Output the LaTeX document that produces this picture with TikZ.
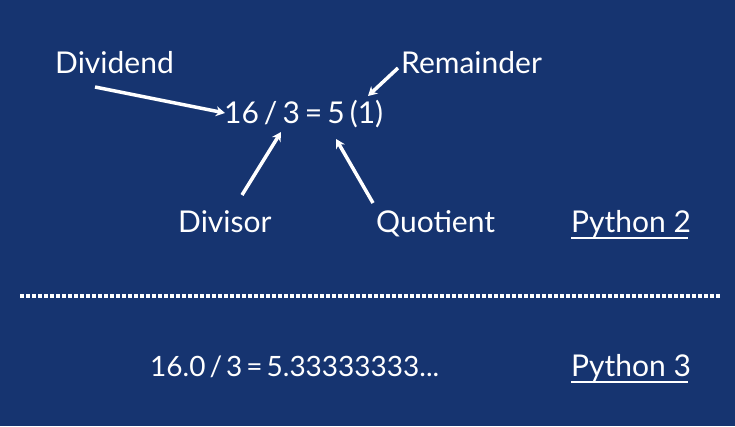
\documentclass[tikz,border=0pt]{standalone}
\usepackage{fontspec}
\setmainfont{Lato}
\usetikzlibrary{arrows.meta}
\definecolor{bg}{RGB}{22,52,112}
\tikzset{
  lbl/.style={text=white, inner sep=0pt, anchor=base west, font=\fontsize{30}{32}\selectfont},
  arr/.style={draw=white, line width=3.5pt, -{Stealth[length=9pt,width=10pt]}},
}
\newcommand{\gapsp}{\hspace{5pt}}
\newcommand{\gapsm}{\hspace{4pt}}
\begin{document}
\begin{tikzpicture}[x=1pt,y=-1pt]
\fill[bg] (0,0) rectangle (735,426);
\useasboundingbox (0,0) rectangle (735,426);
\node[lbl] (dividend) at (55,73) {Dividend};
\node[lbl] (remainder) at (401,73) {Remainder};
\node[lbl] (eq) at (224,123) {16\gapsp/\gapsp3\gapsp=\gapsp5\gapsp(1)};
\node[lbl] (divisor) at (178,232) {Divisor};
\node[lbl] (quotient) at (376,232) {Quotient};
\node[lbl] (py2) at (571,232) {Python 2};
\node[lbl, font=\fontsize{28}{30}\selectfont] (eq3) at (150,376) {16.0\gapsm/\gapsm3\gapsm=\gapsm5.33333333...};
\node[lbl] (py3) at (571,376) {Python 3};
\draw[white, line width=2pt] (py2.base west) ++(0,6) -- ++(117,0);
\draw[white, line width=2pt] (py3.base west) ++(0,6) -- ++(117,0);
\draw[white, line width=3.5pt, dash pattern=on 3.5pt off 2.5pt] (20,296) -- (720,296);
\coordinate (dt) at (95,87);
\coordinate (dh) at (225,113);
\coordinate (rt) at (398,68);
\coordinate (rh) at (368,96);
\coordinate (vt) at (242,195);
\coordinate (vh) at (281,132);
\coordinate (qt) at (373,203);
\coordinate (qh) at (336,139);
\draw[arr] (dt) -- (dh);
\draw[arr] (rt) -- (rh);
\draw[arr] (vt) -- (vh);
\draw[arr] (qt) -- (qh);
\end{tikzpicture}
\end{document}
